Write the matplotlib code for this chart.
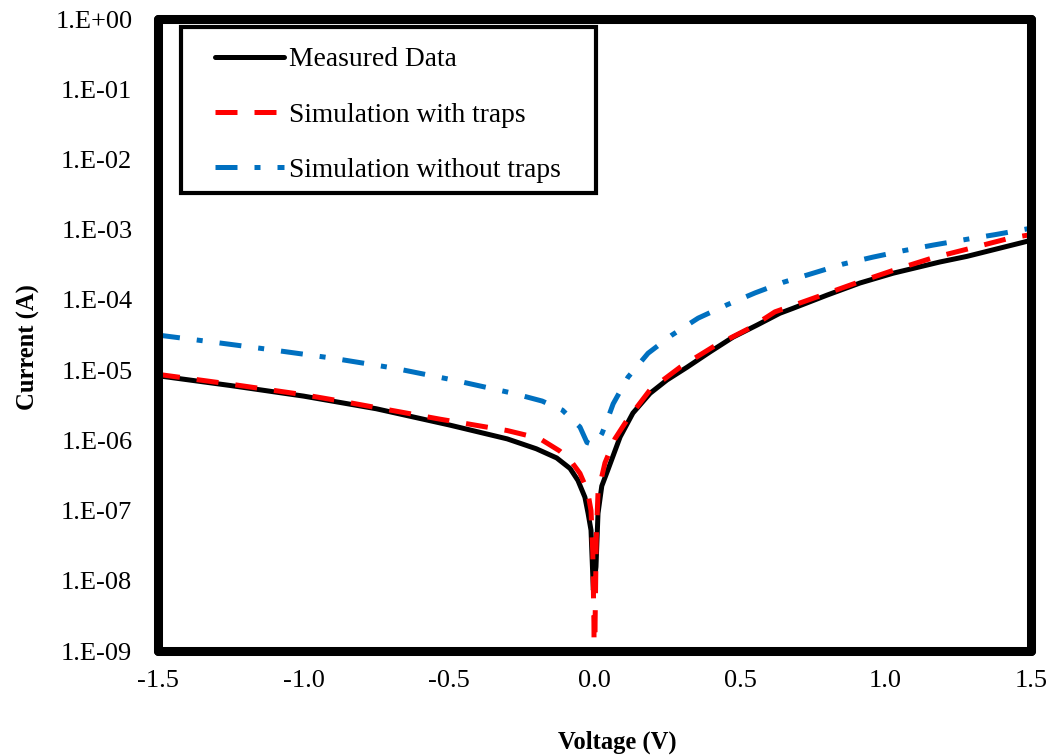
import numpy as np
import matplotlib
matplotlib.use('Agg')
import matplotlib.pyplot as plt
from matplotlib.patches import Rectangle
from matplotlib.ticker import FixedLocator, FuncFormatter

plt.rcParams['font.family'] = ['Liberation Serif', 'DejaVu Serif']

# I-V curves (voltage in V, current magnitude in A)
v_meas = [-1.5, -1.25, -1.0, -0.75, -0.5, -0.3, -0.2, -0.13, -0.084, -0.057, -0.033,
          -0.022, -0.012, -0.004, 0.005, 0.012, 0.025, 0.046, 0.088, 0.132, 0.191, 0.249,
          0.318, 0.397, 0.476, 0.558, 0.637, 0.682, 0.799, 0.912, 1.026, 1.187, 1.28,
          1.473, 1.5]
i_meas = [8.32e-6, 6.03e-6, 4.27e-6, 2.82e-6, 1.66e-6, 1.05e-6, 7.59e-7, 5.62e-7, 3.98e-7,
          2.69e-7, 1.55e-7, 9.12e-8, 5.25e-8, 7.41e-9, 1.58e-8, 9.12e-8, 2.24e-7, 3.80e-7,
          1.12e-6, 2.45e-6, 4.68e-6, 7.24e-6, 1.10e-5, 1.82e-5, 2.95e-5, 4.37e-5, 6.46e-5,
          7.59e-5, 1.17e-4, 1.74e-4, 2.40e-4, 3.47e-4, 4.17e-4, 6.61e-4, 7.08e-4]

v_trap = [-1.5, -1.25, -1.0, -0.86, -0.53, -0.3, -0.19, -0.12, -0.08, -0.05, -0.024,
          -0.012, -0.006, -0.002, 0.0, 0.002, 0.006, 0.012, 0.036, 0.07, 0.112, 0.191,
          0.294, 0.407, 0.534, 0.62, 0.782, 0.905, 1.04, 1.163, 1.297, 1.428, 1.5]
i_trap = [8.71e-6, 6.31e-6, 4.47e-6, 3.55e-6, 2.0e-6, 1.38e-6, 1.07e-6, 7.08e-7, 5.01e-7,
          3.39e-7, 1.91e-7, 1.0e-7, 2.51e-8, 2.51e-9, 1.0e-10, 2.51e-9, 3.98e-8, 1.78e-7,
          4.79e-7, 1.05e-6, 1.95e-6, 5.25e-6, 1.10e-5, 2.14e-5, 3.98e-5, 6.76e-5, 1.17e-4,
          1.78e-4, 2.75e-4, 3.98e-4, 5.50e-4, 7.59e-4, 8.51e-4]

v_notrap = [-1.5, -1.33, -1.11, -0.9, -0.69, -0.486, -0.28, -0.18, -0.11, -0.05, -0.026,
            -0.005, 0.009, 0.026, 0.043, 0.064, 0.115, 0.184, 0.266, 0.356, 0.455, 0.552,
            0.648, 0.751, 0.854, 0.957, 1.06, 1.163, 1.26, 1.377, 1.5]
i_notrap = [3.16e-5, 2.57e-5, 1.95e-5, 1.48e-5, 1.07e-5, 7.24e-6, 4.68e-6, 3.63e-6, 2.69e-6,
            1.55e-6, 9.33e-7, 8.71e-7, 9.55e-7, 1.26e-6, 1.91e-6, 3.31e-6, 7.94e-6, 1.74e-5,
            3.16e-5, 5.50e-5, 8.51e-5, 1.26e-4, 1.78e-4, 2.40e-4, 3.24e-4, 4.07e-4, 5.01e-4,
            6.03e-4, 7.08e-4, 8.51e-4, 1.05e-3]

labels = ['Measured Data', 'Simulation with traps', 'Simulation without traps']
x_ticks = [-1.5, -1.0, -0.5, 0.0, 0.5, 1.0, 1.5]
y_exps = list(range(-9, 1))

fig = plt.figure(figsize=(10.5, 7.55), dpi=100)
ax = fig.add_axes([0.1505, 0.1377, 0.8314, 0.8371])

ax.plot(v_meas, i_meas, color='black', lw=3.6, solid_capstyle='round',
        solid_joinstyle='round', label=labels[0], zorder=3)
ax.plot(v_trap, i_trap, color='#FF0000', lw=3.6, dashes=(4.4, 3.4), label=labels[1], zorder=4)
ax.plot(v_notrap, i_notrap, color='#0070C0', lw=3.6, dashes=(4.4, 3.4, 1.2, 3.4),
        label=labels[2], zorder=2)

ax.set_yscale('log')
ax.set_xlim(-1.5, 1.5)
ax.set_ylim(1e-9, 1e0)

ax.xaxis.set_major_locator(FixedLocator(x_ticks))
ax.xaxis.set_major_formatter(FuncFormatter(lambda v, p: f"{v:.1f}".replace('-0.0', '0.0')))
ax.yaxis.set_major_locator(FixedLocator([10.0 ** e for e in y_exps]))
ax.yaxis.set_major_formatter(FuncFormatter(lambda v, p: f"1.E{int(round(np.log10(v))):+03d}"))
ax.yaxis.set_minor_locator(FixedLocator([]))
ax.tick_params(axis='both', which='both', length=0, labelsize=19)
ax.tick_params(axis='x', pad=14)
ax.tick_params(axis='y', pad=18.5)

for s in ax.spines.values():
    s.set_linewidth(6.5)
    s.set_color('black')
    s.set_capstyle('round')
    s.set_joinstyle('round')
    s.set_zorder(6)

ax.set_xlabel('Voltage (V)', fontsize=17.7, fontweight='bold')
ax.set_ylabel('Current (A)', fontsize=17.7, fontweight='bold')
ax.xaxis.set_label_coords(0.526, -0.126)
ax.yaxis.set_label_coords(-0.135, 0.481)

# legend box
ax.add_patch(Rectangle((0.0263, 0.7247), 0.4754, 0.2626, transform=ax.transAxes,
                       facecolor='white', edgecolor='black', lw=3, zorder=7))
leg = ax.legend(loc='upper left', bbox_to_anchor=(0.0653, 0.9555), frameon=False,
                fontsize=19.8, handlelength=2.5, handletextpad=0.2, labelspacing=1.09,
                borderpad=0, borderaxespad=0)
leg.set_zorder(8)

fig.savefig('out.png', dpi=100)
